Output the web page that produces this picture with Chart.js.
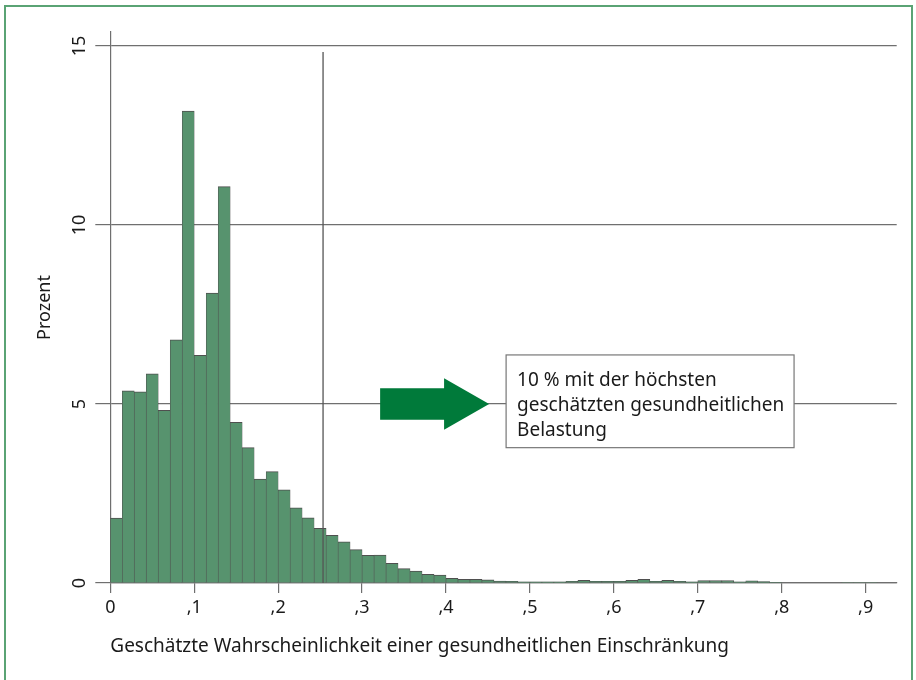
<!DOCTYPE html>
<html>
<head>
<meta charset="utf-8">
<script src="https://cdn.jsdelivr.net/npm/chart.js@4.4.0/dist/chart.umd.min.js"></script>
<style>
  html, body { margin: 0; padding: 0; background: #fff; overflow: hidden; }
  #wrap { position: relative; width: 916px; height: 680px; }
  #frame { position: absolute; left: 4px; top: 5px; width: 909px; height: 720px; border: 2px solid #5aa374; box-sizing: border-box; }
  canvas { position: absolute; left: 0; top: 0; }
</style>
</head>
<body>
<div id="wrap">
  <div id="frame"></div>
  <canvas id="histChart" width="916" height="680"></canvas>
</div>
<script>
  // histogram bins: 70 bins per unit, starting at 0
  const binStart = 0;
  const binWidth = 1 / 70;
  const percent = [
    1.81, 5.37, 5.34, 5.84, 4.82, 6.79, 13.18, 6.36, 8.10, 11.07,
    4.49, 3.78, 2.90, 3.11, 2.60, 2.10, 1.82, 1.53, 1.33, 1.15,
    0.93, 0.77, 0.78, 0.55, 0.40, 0.33, 0.24, 0.22, 0.13, 0.10,
    0.10, 0.09, 0.055, 0.05, 0.03, 0.03, 0.03, 0.03, 0.05, 0.075,
    0.05, 0.05, 0.05, 0.075, 0.10, 0.05, 0.075, 0.05, 0.035, 0.065,
    0.065, 0.065, 0.035, 0.06, 0.04, 0.02, 0.015, 0.015, 0.015, 0.015,
    0.015, 0.005, 0.01, 0.01
  ];
  const xTicks = [0, 0.1, 0.2, 0.3, 0.4, 0.5, 0.6, 0.7, 0.8, 0.9];
  const xTickLabels = ['0', ',1', ',2', ',3', ',4', ',5', ',6', ',7', ',8', ',9'];
  const yTicks = [0, 5, 10, 15];

  // 90 % cutoff line
  const cutoff = 0.2535;
  const cutoffTop = 14.83;

  const noteLines = ['10 % mit der höchsten', 'geschätzten gesundheitlichen', 'Belastung'];
  const noteBox = { x0: 0.4716, x1: 0.8147, yTop: 6.37, yBottom: 3.78 };
  const arrow = { tail: 0.3215, neck: 0.3977, tip: 0.4514, y: 5, body: 0.44, head: 0.72 };

  const bars = percent.map((v, i) => ({ x: binStart + (i + 0.5) * binWidth, y: v }));

  const gridGrey = '#6f6f6f';
  const textCol = '#1a1a1a';

  Chart.defaults.font.family = '"Noto Sans"';
  Chart.defaults.font.size = 18;
  Chart.defaults.color = textCol;

  const notePlugin = {
    id: 'note',
    afterDatasetsDraw(chart) {
      const { ctx, scales: { x, y } } = chart;
      ctx.save();
      // arrow
      const px = v => x.getPixelForValue(v);
      const py = v => y.getPixelForValue(v);
      ctx.fillStyle = '#007a3a';
      ctx.beginPath();
      ctx.moveTo(px(arrow.tail), py(arrow.y + arrow.body));
      ctx.lineTo(px(arrow.neck), py(arrow.y + arrow.body));
      ctx.lineTo(px(arrow.neck), py(arrow.y + arrow.head));
      ctx.lineTo(px(arrow.tip), py(arrow.y));
      ctx.lineTo(px(arrow.neck), py(arrow.y - arrow.head));
      ctx.lineTo(px(arrow.neck), py(arrow.y - arrow.body));
      ctx.lineTo(px(arrow.tail), py(arrow.y - arrow.body));
      ctx.closePath();
      ctx.fill();

      // text box
      const bx = px(noteBox.x0), by = py(noteBox.yTop);
      const bw = px(noteBox.x1) - bx, bh = py(noteBox.yBottom) - by;
      ctx.fillStyle = '#fff';
      ctx.fillRect(bx, by, bw, bh);
      ctx.strokeStyle = '#777';
      ctx.lineWidth = 1.2;
      ctx.strokeRect(bx, by, bw, bh);
      ctx.fillStyle = textCol;
      ctx.font = '19px "Noto Sans"';
      ctx.textAlign = 'left';
      ctx.textBaseline = 'alphabetic';
      noteLines.forEach((t, i) => ctx.fillText(t, bx + 11, by + 31.5 + i * 25));
      ctx.restore();
    }
  };

  const ctx = document.getElementById('histChart');
  const myChart = new Chart(ctx, {
    type: 'bar',
    data: {
      datasets: [{
        type: 'line',
        data: [{ x: cutoff, y: 0 }, { x: cutoff, y: cutoffTop }],
        borderColor: '#555',
        borderWidth: 1.3,
        pointRadius: 0,
        order: 0
      }, {
        label: 'Prozent',
        data: bars,
        backgroundColor: '#57936e',
        borderColor: '#4f4f4f',
        borderWidth: { top: 1, left: 0.6, right: 0.6, bottom: 0 },
        barPercentage: 1,
        categoryPercentage: 1,
        order: 1
      }]
    },
    options: {
      responsive: false,
      animation: false,
      layout: { padding: { left: 34, top: 32, right: 19.3, bottom: 0 } },
      plugins: { legend: { display: false }, tooltip: { enabled: false } },
      scales: {
        x: {
          type: 'linear',
          min: 0,
          max: 0.937,
          offset: false,
          afterFit: s => { s.height = 97; },
          afterBuildTicks: s => { s.ticks = xTicks.map(v => ({ value: v })); },
          grid: { offset: false, drawOnChartArea: false, drawTicks: true, tickLength: 10, color: gridGrey, lineWidth: 1.2 },
          border: { display: true, color: gridGrey, width: 1.2 },
          ticks: {
            autoSkip: false, maxRotation: 0, padding: 4,
            callback: (v, i) => xTickLabels[i]
          },
          title: {
            display: true,
            text: 'Geschätzte Wahrscheinlichkeit einer gesundheitlichen Einschränkung',
            align: 'start',
            font: { size: 19 },
            padding: { top: 0, bottom: 22 }
          }
        },
        y: {
          min: 0,
          max: 15.39,
          afterFit: s => { s.width = 76.3; },
          afterBuildTicks: s => { s.ticks = yTicks.map(v => ({ value: v })); },
          grid: { drawTicks: true, tickLength: 15, color: gridGrey, lineWidth: 1.2 },
          border: { display: true, color: gridGrey, width: 1.2 },
          ticks: { minRotation: 90, maxRotation: 90, crossAlign: 'center', padding: 5 },
          title: { display: true, text: 'Prozent', padding: { top: 0, bottom: 0 } }
        }
      }
    },
    plugins: [notePlugin]
  });
</script>
</body>
</html>
